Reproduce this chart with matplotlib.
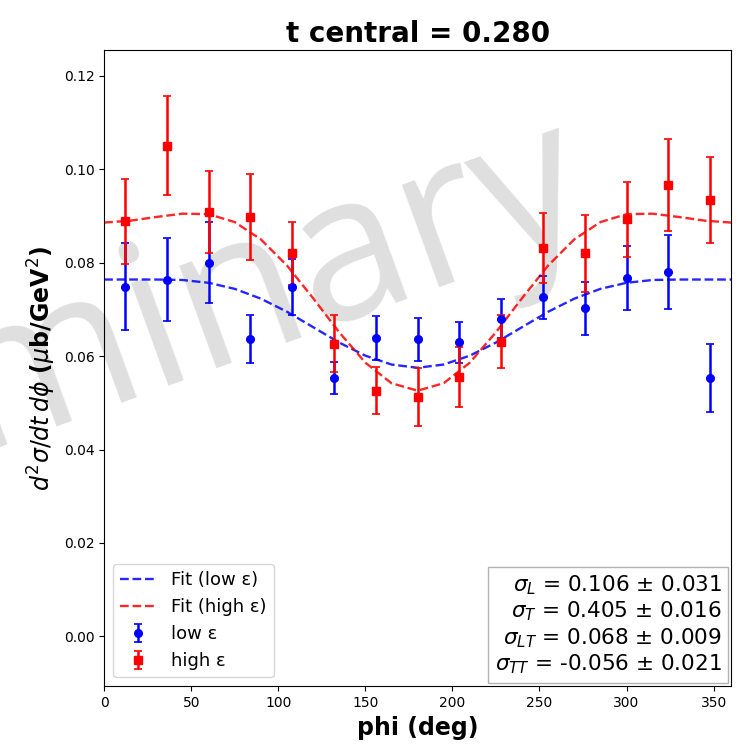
import matplotlib
matplotlib.use('Agg')
import matplotlib.pyplot as plt

# data points (phi bins)
phi = [12, 36, 60, 84, 108, 132, 156, 180, 204, 228, 252, 276, 300, 324, 348]

low_y = [0.0749, 0.0764, 0.0800, 0.0637, 0.0749, 0.0553, 0.0639, 0.0636,
         0.0630, 0.0680, 0.0726, 0.0702, 0.0767, 0.0780, 0.0554]
low_err = [0.0094, 0.0089, 0.0087, 0.0051, 0.0060, 0.0035, 0.0047, 0.0046,
           0.0044, 0.0042, 0.0046, 0.0057, 0.0068, 0.0080, 0.0073]

high_y = [0.0889, 0.1051, 0.0909, 0.0897, 0.0820, 0.0626, 0.0526, 0.0512,
          0.0555, 0.0631, 0.0832, 0.0820, 0.0893, 0.0966, 0.0934]
high_err = [0.0091, 0.0107, 0.0088, 0.0092, 0.0068, 0.0061, 0.0051, 0.0062,
            0.0064, 0.0056, 0.0075, 0.0082, 0.0080, 0.0098, 0.0092]

# fit curves
phi_fit = [0, 15, 30, 45, 60, 75, 90, 105, 120, 135, 150, 165, 180,
           195, 210, 225, 240, 255, 270, 285, 300, 315, 330, 345, 360]
low_fit = [0.0764, 0.0764, 0.0764, 0.0763, 0.0757, 0.0744, 0.0723, 0.0695, 0.0662,
           0.0629, 0.0601, 0.0582, 0.0575, 0.0582, 0.0601, 0.0629, 0.0662, 0.0695,
           0.0723, 0.0744, 0.0757, 0.0763, 0.0764, 0.0764, 0.0764]
high_fit = [0.0886, 0.0890, 0.0898, 0.0905, 0.0904, 0.0887, 0.0850, 0.0794, 0.0724,
            0.0651, 0.0586, 0.0542, 0.0526, 0.0542, 0.0586, 0.0651, 0.0724, 0.0794,
            0.0850, 0.0887, 0.0904, 0.0905, 0.0898, 0.0890, 0.0886]

sig_names = ['L', 'T', 'LT', 'TT']
sig_vals = ['0.106', '0.405', '0.068', '-0.056']
sig_errs = ['0.031', '0.016', '0.009', '0.021']

fig = plt.figure(figsize=(7.44, 7.5), dpi=100)
ax = fig.add_axes([0.14, 0.085, 0.8425, 0.848])

# watermark
ax.text(0.093, 0.522, 'Preliminary', transform=fig.transFigure, fontsize=146,
        family='Open Sans', color='gray', alpha=0.25, rotation=20,
        ha='center', va='center', zorder=0, clip_on=False)

ax.plot(phi_fit, low_fit, '--', color='blue', lw=1.7, alpha=0.85, label='Fit (low ε)')
ax.plot(phi_fit, high_fit, '--', color='red', lw=1.7, alpha=0.85, label='Fit (high ε)')
ax.errorbar(phi, low_y, yerr=low_err, fmt='o', color='blue', ms=5.5, capsize=3,
            elinewidth=1.8, capthick=1.2, label='low ε')
ax.errorbar(phi, high_y, yerr=high_err, fmt='s', color='red', ms=5.5, capsize=3,
            elinewidth=1.8, capthick=1.2, label='high ε')

ax.set_xlim(0, 360)
ax.set_ylim(-0.0107, 0.1255)
ax.set_xticks([0, 50, 100, 150, 200, 250, 300, 350])
ax.set_yticks([0.0, 0.02, 0.04, 0.06, 0.08, 0.10, 0.12])
ax.set_yticklabels(['0.00', '0.02', '0.04', '0.06', '0.08', '0.10', '0.12'])
ax.tick_params(labelsize=10)

ax.set_title('t central = 0.280', fontsize=20, fontweight='bold')
ax.set_xlabel('phi (deg)', fontsize=17, fontweight='bold')
ax.set_ylabel(r'$d^2\sigma/dt\,d\phi$ ($\mu$b/GeV$^2$)', fontsize=17, fontweight='bold')

ax.legend(loc='lower left', fontsize=13)

lines = []
for n, v, e in zip(sig_names, sig_vals, sig_errs):
    lines.append(r'$\sigma_{%s}$ = %s $\pm$ %s' % (n, v, e))
ax.text(0.985, 0.016, '\n'.join(lines), transform=ax.transAxes, fontsize=15.5,
        ha='right', va='bottom', multialignment='right', linespacing=1.15,
        bbox=dict(boxstyle='square,pad=0.3', facecolor='white', edgecolor='#aaaaaa', alpha=0.9))

fig.savefig('out.png', dpi=100)
